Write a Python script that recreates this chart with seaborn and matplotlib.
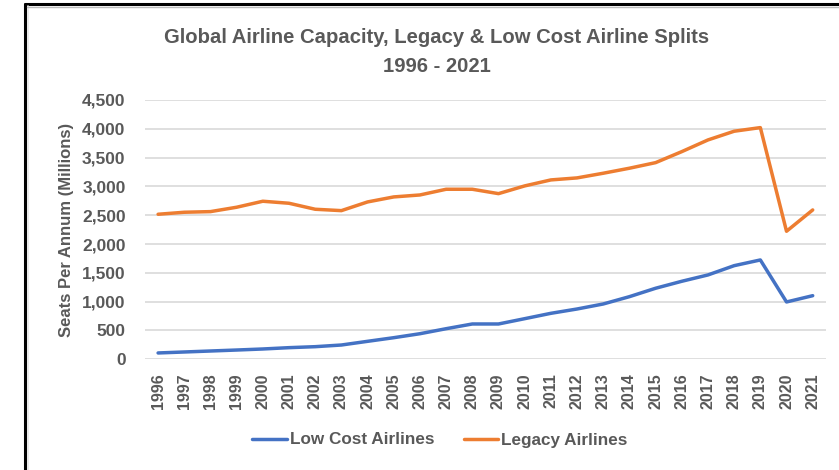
import matplotlib
matplotlib.use("Agg")
import matplotlib.pyplot as plt
from matplotlib.lines import Line2D
from matplotlib.ticker import FuncFormatter
import seaborn as sns
import pandas as pd

years = list(range(1996, 2022))
low_cost = [110, 127, 144, 161, 179, 202, 219, 248, 312, 375, 444, 531, 613, 613,
            705, 798, 873, 960, 1087, 1233, 1354, 1464, 1625, 1724, 995, 1104]
legacy = [2517, 2552, 2563, 2639, 2743, 2708, 2604, 2580, 2731, 2818, 2852, 2951, 2951, 2875,
          3009, 3113, 3148, 3229, 3316, 3413, 3604, 3807, 3958, 4021, 2222, 2592]
series_names = ["Low Cost Airlines", "Legacy Airlines"]
title = "Global Airline Capacity, Legacy & Low Cost Airline Splits\n1996 - 2021"
ylabel = "Seats Per Annum (Millions)"
yticks = [0, 500, 1000, 1500, 2000, 2500, 3000, 3500, 4000, 4500]

df = pd.DataFrame({
    "Year": years * 2,
    "Seats": low_cost + legacy,
    "Series": [series_names[0]] * len(years) + [series_names[1]] * len(years),
})

sns.set_theme(style="white")
FONT = ["Liberation Sans", "DejaVu Sans"]
plt.rcParams["font.family"] = FONT
TXT = "#595959"

fig = plt.figure(figsize=(8.39, 4.70), dpi=100)
ax = fig.add_axes([145 / 839, 1 - 359.3 / 470, (825.8 - 145) / 839, (359.3 - 100) / 470])

sns.lineplot(data=df, x="Year", y="Seats", hue="Series",
             palette={series_names[0]: "#4472C4", series_names[1]: "#ED7D31"},
             linewidth=2.5, ax=ax, legend=True, solid_capstyle="round")

ax.set_xlim(years[0] - 0.5, years[-1] + 0.5)
ax.set_ylim(0, 4500)
ax.set_yticks(yticks)
ax.yaxis.set_major_formatter(FuncFormatter(lambda v, p: f"{int(v):,}"))
ax.set_xticks(years)
ax.set_xticklabels([str(y) for y in years], rotation=90, fontsize=11.5,
                   fontweight="bold", color=TXT)
for t in ax.get_yticklabels():
    t.set_fontsize(12.5)
    t.set_fontweight("bold")
    t.set_color(TXT)
ax.tick_params(axis="x", length=0, pad=10)
ax.tick_params(axis="y", length=0, pad=14)
ax.grid(axis="y", color="#D9D9D9", linewidth=1.2)
ax.grid(axis="x", visible=False)
ax.set_axisbelow(True)
for s in ax.spines.values():
    s.set_visible(False)
ax.set_xlabel("")
ax.set_ylabel(ylabel, fontsize=12, fontweight="bold", color=TXT, labelpad=6)

fig.text(437 / 839, 1 - 52 / 470, title, ha="center", va="center",
         fontsize=14.6, fontweight="bold", color=TXT, linespacing=1.65)

handles, labels = ax.get_legend_handles_labels()
ax.legend(handles, labels, loc="center", bbox_to_anchor=(440 / 839, 1 - 440 / 470),
          bbox_transform=fig.transFigure, ncol=2, frameon=False, handlelength=2.0,
          handletextpad=0.2, columnspacing=1.7,
          prop={"family": FONT, "weight": "bold", "size": 12.3})
for t in ax.get_legend().get_texts():
    t.set_color(TXT)

# frame lines of the screenshot
fig.add_artist(Line2D([25 / 839, 25 / 839], [0, 1 - 4 / 470], transform=fig.transFigure,
                      color="black", linewidth=2.2))
fig.add_artist(Line2D([25 / 839, 1], [1 - 4 / 470, 1 - 4 / 470], transform=fig.transFigure,
                      color="black", linewidth=2.2))
fig.add_artist(Line2D([28 / 839, 28 / 839], [0, 1 - 6 / 470], transform=fig.transFigure,
                      color="#E6E6E6", linewidth=1.2))
fig.add_artist(Line2D([27 / 839, 1], [1 - 6.5 / 470, 1 - 6.5 / 470], transform=fig.transFigure,
                      color="#BBBBBB", linewidth=1.0))

fig.savefig("out.png", dpi=100, facecolor="white")
